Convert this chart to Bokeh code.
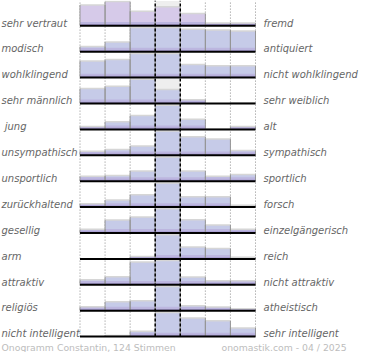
from bokeh.plotting import figure
from bokeh.models import Range1d
from bokeh.core.properties import value
from bokeh.embed import file_html
from bokeh.resources import INLINE

# ---------------- data ----------------
left_labels = ["sehr vertraut", "modisch", "wohlklingend", "sehr männlich", "\u00a0jung",
               "unsympathisch", "unsportlich", "zurückhaltend", "gesellig", "arm",
               "attraktiv", "religiös", "nicht intelligent"]
right_labels = ["fremd", "antiquiert", "nicht wohlklingend", "sehr weiblich", "alt",
                "sympathisch", "sportlich", "forsch", "einzelgängerisch", "reich",
                "nicht attraktiv", "atheistisch", "sehr intelligent"]
# relative share per scale step (row maximum = 100)
r_vertraut = [86, 100, 60, 79, 51, 12, 12]
r_modisch = [21, 40, 100, 100, 93, 90, 86]
r_klang = [69, 75, 100, 100, 54, 49, 49]
r_maennlich = [62, 71, 100, 58, 16, 0, 3]
r_jung = [12, 32, 57, 100, 42, 3, 12]
r_sympath = [17, 24, 38, 100, 77, 67, 20]
r_sport = [20, 24, 42, 100, 42, 20, 28]
r_forsch = [14, 29, 51, 100, 43, 43, 8]
r_gesellig = [15, 54, 66, 100, 55, 33, 16]
r_reich = [0, 0, 10, 100, 49, 43, 7]
r_attraktiv = [21, 33, 94, 100, 32, 17, 17]
r_religion = [16, 37, 41, 100, 20, 15, 8]
r_intelligent = [0, 5, 22, 100, 77, 65, 36]
rows = [r_vertraut, r_modisch, r_klang, r_maennlich, r_jung, r_sympath, r_sport,
        r_forsch, r_gesellig, r_reich, r_attraktiv, r_religion, r_intelligent]
footer_left = "Onogramm Constantin, 124 Stimmen"
footer_right = "onomastik.com - 04 / 2025"

# ---------------- layout ----------------
W, H = 362, 352
X0, CW = 79.5, 25.07      # px of first column edge, column width
Y0, RH = 25.3, 25.9       # px of first baseline, row pitch
BAR_H = 24.2 / RH         # full bar height in row units


def xd(px):
    return (px - X0) / CW


def yd(px):
    return -(px - Y0) / RH


p = figure(width=W, height=H, output_backend="svg", toolbar_location=None,
           x_axis_type=None, y_axis_type=None, min_border=0,
           x_range=Range1d(xd(0), xd(W)), y_range=Range1d(yd(H), yd(0)))
p.grid.visible = False
p.outline_line_color = None
p.background_fill_color = "white"

n = len(rows)
ncol = 7

# centre column grey background
p.quad(left=[3] * n, right=[4] * n, bottom=[-i for i in range(n)],
       top=[-i + 24.8 / RH for i in range(n)], fill_color="#eeeeee", line_color=None)

# dotted grid lines
dx = [0, 1, 2, 5, 6, 7]
p.segment(x0=dx, x1=dx, y0=[-(n - 1)] * len(dx), y1=[yd(0)] * len(dx),
          line_color="#8a8a8a", line_width=1, line_dash="1 2")

# bars
L, R, B, T, C = [], [], [], [], []
b1L, b1R, b1B, b1T = [], [], [], []
b2L, b2R, b2B, b2T = [], [], [], []
eX, eY0, eY1 = [], [], []
tX0, tX1, tY = [], [], []
for i, vals in enumerate(rows):
    for j, v in enumerate(vals):
        if v <= 0:
            continue
        h = v / 100 * BAR_H
        L.append(j); R.append(j + 1); B.append(-i); T.append(-i + h)
        C.append("#d6cae9" if i == 0 else "#c6cbe8")
        b2L.append(j); b2R.append(j + 1); b2B.append(-i); b2T.append(-i + min(h, 0.15))
        b1L.append(j); b1R.append(j + 1); b1B.append(-i); b1T.append(-i + min(h, 0.07))
        for xx in (j, j + 1):
            eX.append(xx); eY0.append(-i); eY1.append(-i + h)
        tX0.append(j); tX1.append(j + 1); tY.append(-i + h)

p.quad(left=L, right=R, bottom=B, top=T, fill_color=C, line_color=None)
p.quad(left=b2L, right=b2R, bottom=b2B, top=b2T, fill_color="#bcb6df", line_color=None)
p.quad(left=b1L, right=b1R, bottom=b1B, top=b1T, fill_color="#a99ed2", line_color=None)
p.segment(x0=tX0, x1=tX1, y0=tY, y1=tY, line_color="#d6d6d6", line_width=1.5)
p.segment(x0=eX, x1=eX, y0=eY0, y1=eY1, line_color="#959595", line_width=1)

# dashed centre lines
p.segment(x0=[3, 4], x1=[3, 4], y0=[-(n - 1)] * 2, y1=[yd(0)] * 2,
          line_color="black", line_width=1.5, line_dash="3 2")

# baselines
p.segment(x0=[0] * n, x1=[ncol] * n, y0=[-i for i in range(n)], y1=[-i for i in range(n)],
          line_color="black", line_width=2)

# labels
ty = [-i + 2.8 / RH for i in range(n)]
p.text(x=[xd(1)] * n, y=ty, text=left_labels, text_font=value("DejaVu Sans"),
       text_font_style="italic", text_font_size="10px", text_color="#666666",
       text_align="left", text_baseline="alphabetic")
p.text(x=[xd(263)] * n, y=ty, text=right_labels, text_font=value("DejaVu Sans"),
       text_font_style="italic", text_font_size="10px", text_color="#666666",
       text_align="left", text_baseline="alphabetic")

# footer
p.text(x=[xd(1), xd(221)], y=[yd(347)] * 2, text=[footer_left, footer_right],
       text_font=value("DejaVu Sans"), text_font_size="9.3px", text_color="#bdbdbd",
       text_align="left", text_baseline="alphabetic")

open("out.html", "w").write(file_html(p, INLINE))
